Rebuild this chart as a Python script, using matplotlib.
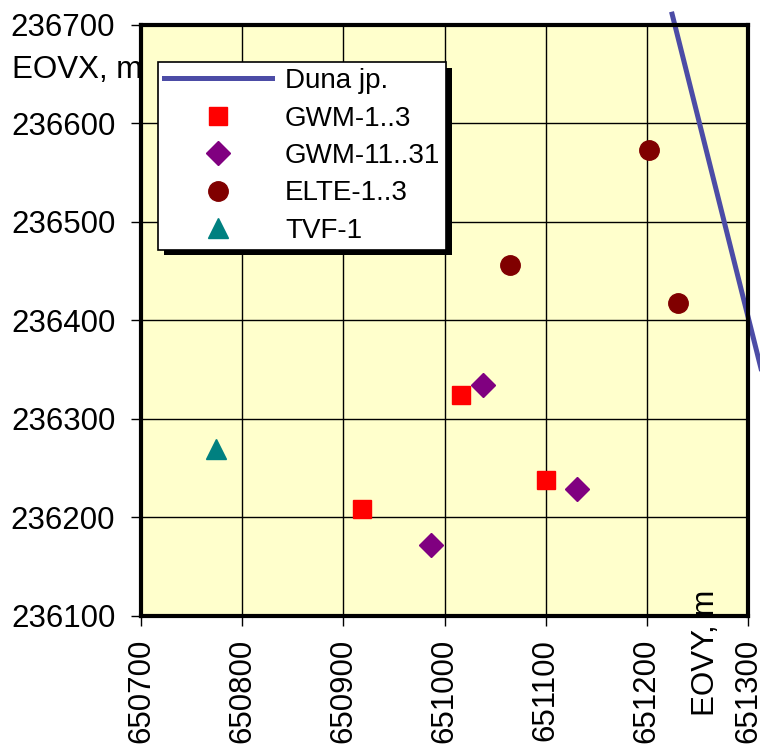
import matplotlib
matplotlib.use("Agg")
import matplotlib.pyplot as plt
import matplotlib.patheffects as pe

plt.rcParams['font.family'] = ['Liberation Sans', 'DejaVu Sans']

# Data (EOV coordinates, m)
duna_y = [651225, 651320]
duna_x = [236711, 236322]

gwm13_y = [651016, 650918, 651100]
gwm13_x = [236324, 236209, 236238]

gwm1131_y = [651038, 650987, 651131]
gwm1131_x = [236335, 236172, 236229]

elte_y = [651202, 651065, 651231]
elte_x = [236573, 236456, 236418]

tvf_y = [650774]
tvf_x = [236270]

xticks = [650700, 650800, 650900, 651000, 651100, 651200, 651300]
yticks = [236100, 236200, 236300, 236400, 236500, 236600, 236700]

fig = plt.figure(figsize=(7.6, 7.47), dpi=100)
ax = fig.add_axes([141/760, 1-616/747, 607/760, 591/747])
ax.set_facecolor('#FFFFCC')

ax.plot(duna_y, duna_x, color='#4C4CA6', lw=3.6, clip_on=False, label='Duna jp.', zorder=5)
ax.plot(gwm13_y, gwm13_x, 's', color='#FF0000', ms=13, ls='none', label='GWM-1..3', zorder=6)
ax.plot(gwm1131_y, gwm1131_x, 'D', color='#800080', ms=12, ls='none', label='GWM-11..31', zorder=6)
ax.plot(elte_y, elte_x, 'o', color='#800000', ms=14, ls='none', label='ELTE-1..3', zorder=6)
ax.plot(tvf_y, tvf_x, '^', color='#008080', ms=14, ls='none', label='TVF-1', zorder=6)

ax.set_xlim(650700, 651300)
ax.set_ylim(236100, 236700)
ax.set_xticks(xticks)
ax.set_yticks(yticks)
ax.set_xticklabels([str(t) for t in xticks], rotation=90, fontsize=22.5)
ax.set_yticklabels([str(t) for t in yticks], fontsize=22.5)
ax.grid(True, color='black', lw=1)
ax.set_axisbelow(True)
ax.tick_params(direction='out', length=7.5, width=1)
ax.tick_params(axis='x', pad=9)
ax.tick_params(axis='y', pad=11)
for s in ax.spines.values():
    s.set_linewidth(3)
    s.set_zorder(7)

ax.set_zorder(2)
ax.patch.set_zorder(0)
fig.text(12/760, 1-70/747, 'EOVX, m', fontsize=22.5, ha='left', va='center', zorder=0)
fig.text(706/760, 1-653/747, 'EOVY, m', fontsize=22.5, rotation=90, ha='center', va='center', zorder=5)

leg = ax.legend(loc='upper left', bbox_to_anchor=(17/607, (616-62)/591), borderaxespad=0,
                fontsize=20, handlelength=3.9, handletextpad=0.45, labelspacing=0.41,
                fancybox=False, framealpha=1, edgecolor='black', borderpad=0.22)
leg.get_frame().set_linewidth(1.2)
leg.get_frame().set_path_effects([pe.SimplePatchShadow(offset=(4, -4), shadow_rgbFace='black', alpha=1), pe.Normal()])
leg.set_zorder(10)

fig.savefig('out.png', dpi=100)
